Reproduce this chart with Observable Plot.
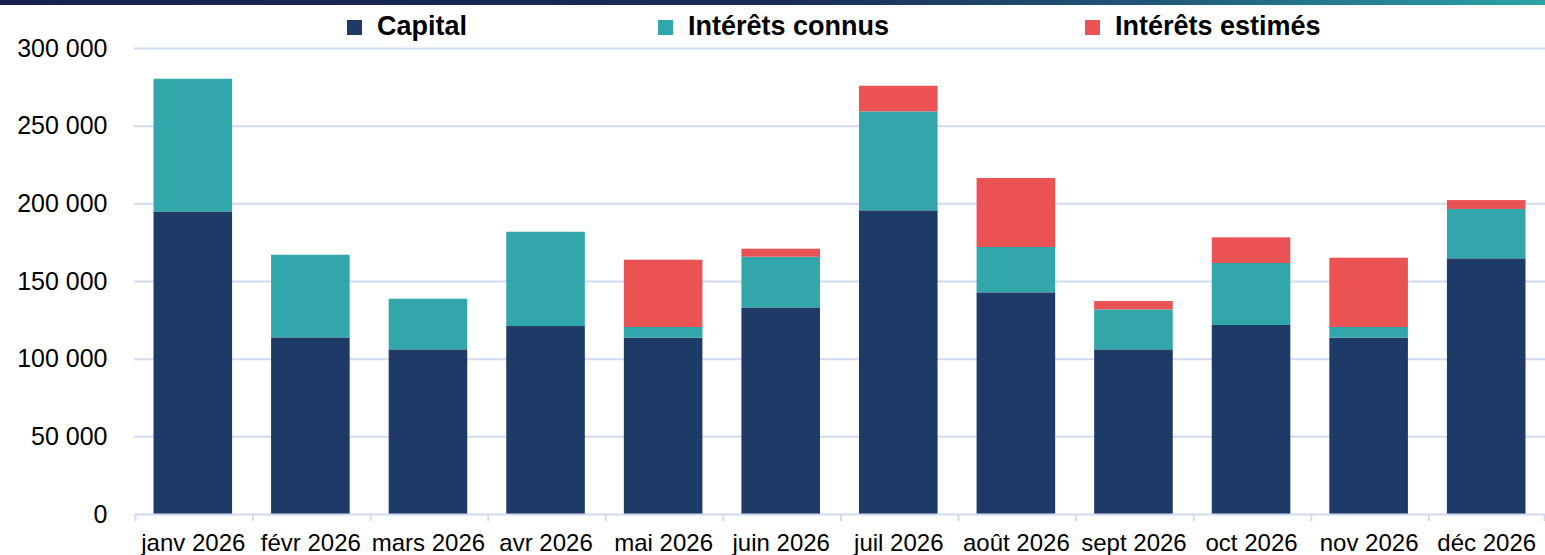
<!DOCTYPE html>
<html>
<head>
<meta charset="utf-8">
<script src="https://cdn.jsdelivr.net/npm/d3@7"></script>
<script src="https://cdn.jsdelivr.net/npm/@observablehq/plot@0.6"></script>
<style>
  html, body { margin: 0; padding: 0; background: #fff; }
  #wrap { position: relative; width: 1545px; height: 555px; overflow: hidden; font-family: "Liberation Sans", Arial, sans-serif; }
  #topbar { position: absolute; left: 0; top: 0; width: 1545px; height: 5px;
    background: linear-gradient(to right, #17224e 0%, #1a2a56 50%, #21577a 75%, #2ba4a8 100%); }
  .leg { position: absolute; top: 13px; font-size: 27px; font-weight: bold; line-height: 27px; color: #000; white-space: nowrap; }
  .leg .sw { display: inline-block; width: 15px; height: 15px; margin-right: 15px; vertical-align: baseline; }
  svg { display: block; }
</style>
</head>
<body>
<div id="wrap">
  <div id="chart"></div>
  <div id="topbar"></div>
  <div id="legend"></div>
</div>
<script>
const months = ["janv 2026","févr 2026","mars 2026","avr 2026","mai 2026","juin 2026","juil 2026","août 2026","sept 2026","oct 2026","nov 2026","déc 2026"];
const capital = [194800, 113700, 106000, 121000, 113500, 133000, 195500, 142700, 106000, 121700, 113500, 164600];
const interetsConnus = [85400, 53200, 32600, 60700, 6900, 32600, 63700, 29200, 25700, 39900, 6900, 31800];
const interetsEstimes = [0, 0, 0, 0, 43300, 5200, 16500, 44400, 5400, 16500, 44600, 5700];
const seriesNames = ["Capital", "Intérêts connus", "Intérêts estimés"];
const seriesColors = ["#1e3a66", "#31a7ac", "#ea5254"];
const yTicks = [0, 50000, 100000, 150000, 200000, 250000, 300000];

const seriesValues = [capital, interetsConnus, interetsEstimes];
const data = [];
months.forEach((m, i) => {
  seriesNames.forEach((s, k) => data.push({month: m, series: s, value: seriesValues[k][i]}));
});

const W = 1545, H = 555, mL = 134, mR = 0, mT = 48, mB = 41;
const half = (W - mL - mR) / months.length / 2;
const fmt = d => d3.format(",")(d).replace(/,/g, " ");
const lineColor = "#d0dbf2";

const chart = Plot.plot({
  width: W, height: H,
  marginLeft: mL, marginRight: mR, marginTop: mT, marginBottom: mB,
  style: {fontFamily: "'Liberation Sans', Arial, sans-serif", color: "#000", background: "transparent"},
  x: {domain: months, padding: 0, round: false, axis: null},
  y: {domain: [0, 300000], axis: null},
  color: {domain: seriesNames, range: seriesColors},
  marks: [
    Plot.ruleY(yTicks.filter(v => v > 0), {stroke: lineColor, strokeWidth: 2}),
    Plot.barY(data, {x: "month", y: "value", fill: "series", insetLeft: 19.5, insetRight: 19.5}),
    Plot.ruleY([0], {stroke: lineColor, strokeWidth: 2}),
    Plot.ruleX(months, {x: d => d, y1: 0, y2: 0, dx: -half + 1, insetBottom: -7, stroke: lineColor, strokeWidth: 2}),
    Plot.ruleX(months.slice(-1), {x: d => d, y1: 0, y2: 0, dx: half - 1, insetBottom: -7, stroke: lineColor, strokeWidth: 2}),
    Plot.axisY(yTicks, {tickSize: 0, tickPadding: 27, fontSize: 25, tickFormat: fmt, fill: "#000", label: null}),
    Plot.axisX({tickSize: 0, tickPadding: 19, fontSize: 24, fill: "#000", label: null})
  ]
});
document.getElementById("chart").appendChild(chart);

const legendLefts = [347, 658, 1085];
const legend = document.getElementById("legend");
seriesNames.forEach((s, k) => {
  const d = document.createElement("div");
  d.className = "leg";
  d.style.left = legendLefts[k] + "px";
  const sw = document.createElement("span");
  sw.className = "sw";
  sw.style.background = seriesColors[k];
  d.appendChild(sw);
  d.appendChild(document.createTextNode(s));
  legend.appendChild(d);
});
</script>
</body>
</html>
